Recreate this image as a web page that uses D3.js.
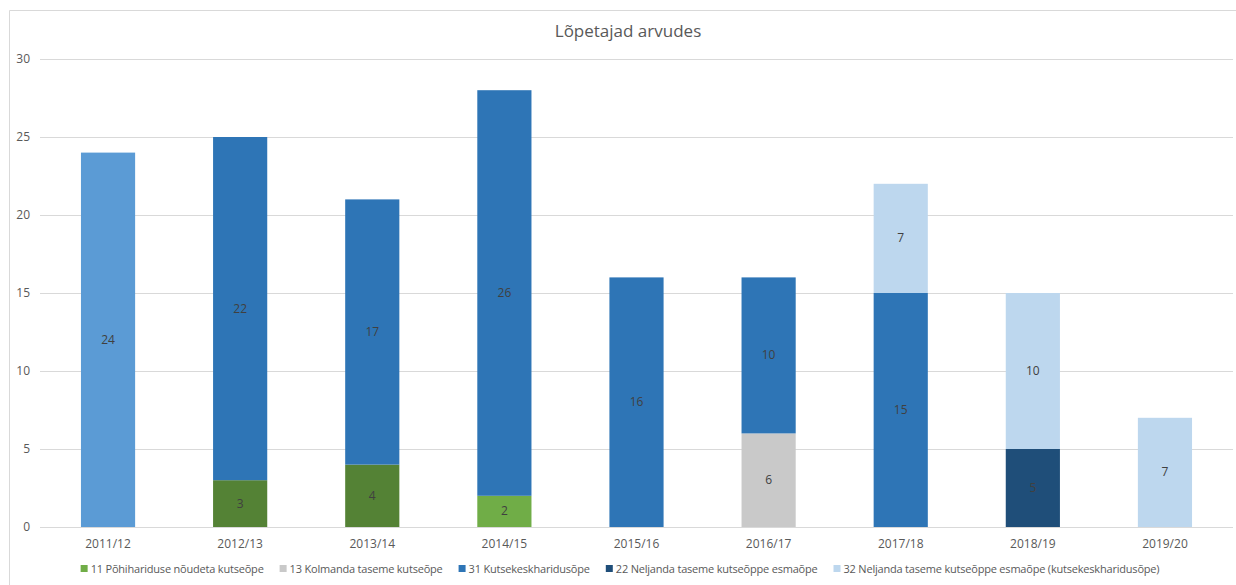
<!DOCTYPE html>
<html>
<head>
<meta charset="utf-8">
<script src="https://cdn.jsdelivr.net/npm/d3@7"></script>
<style>
  body { margin: 0; background: #fff; }
  text { font-family: "Open Sans", "DejaVu Sans", sans-serif; }
</style>
</head>
<body>
<div id="chart"></div>
<script>
// Data
var years = ["2011/12", "2012/13", "2013/14", "2014/15", "2015/16", "2016/17", "2017/18", "2018/19", "2019/20"];
var seriesNames = [
    "11 Põhihariduse nõudeta kutseõpe",
    "13 Kolmanda taseme kutseõpe",
    "31 Kutsekeskharidusõpe",
    "22 Neljanda taseme kutseõppe esmaõpe",
    "32 Neljanda taseme kutseõppe esmaõpe (kutsekeskharidusõpe)"
];
var s11 = [0, 3, 4, 2, 0, 0, 0, 0, 0];
var s13 = [0, 0, 0, 0, 0, 6, 0, 0, 0];
var s31 = [24, 22, 17, 26, 16, 10, 15, 0, 0];
var s22 = [0, 0, 0, 0, 0, 0, 0, 5, 0];
var s32 = [0, 0, 0, 0, 0, 0, 7, 10, 7];
var yTicks = [0, 5, 10, 15, 20, 25, 30];

var seriesValues = [s11, s13, s31, s22, s32];
var seriesColors = ["#70ad47", "#c9c9c9", "#2e75b6", "#1f4e79", "#bdd7ee"];
// some points were coloured differently in the original
var pointColors = {"0-1": "#548235", "0-2": "#548235", "2-0": "#5b9bd5"};

var svgWidth = 1236;
var svgHeight = 585;
var margins = {top: 59, left: 40, right: 3, bottom: 58};
var width = svgWidth - margins.left - margins.right;
var height = svgHeight - margins.top - margins.bottom;

var svg = d3.select("#chart").append("svg").attr("width", svgWidth).attr("height", svgHeight);

// chart frame (only top and left edges are in view)
svg.append("path")
    .attr("d", "M9.5," + svgHeight + "V10.5H" + svgWidth)
    .attr("fill", "none")
    .attr("stroke", "#d9d9d9");

svg.append("text")
    .attr("x", 628)
    .attr("y", 37)
    .attr("text-anchor", "middle")
    .attr("font-size", "17px")
    .attr("fill", "#595959")
    .text("Lõpetajad arvudes");

var chartGroup = svg.append("g").attr("transform", `translate(${margins.left},${margins.top})`);

var xScale = d3.scaleBand().domain(years).range([0, width]).paddingInner(0.59).paddingOuter(0.31);
var yScale = d3.scaleLinear().domain([0, 30]).range([height, 0]);

// gridlines
chartGroup.selectAll("line.grid")
    .data(yTicks)
    .enter()
    .append("line")
    .attr("x1", 0)
    .attr("x2", width)
    .attr("y1", d => yScale(d) + 0.5)
    .attr("y2", d => yScale(d) + 0.5)
    .attr("stroke", "#d9d9d9");

var leftAxis = d3.axisLeft(yScale).tickValues(yTicks).tickSize(0).tickPadding(10);
var yAxis = chartGroup.append("g").call(leftAxis);
yAxis.select(".domain").remove();
yAxis.selectAll("text").attr("font-size", "12px").attr("fill", "#595959").style("font-family", "Open Sans, sans-serif");

var bottomAxis = d3.axisBottom(xScale).tickSize(0).tickPadding(12);
var xAxis = chartGroup.append("g").attr("transform", `translate(0, ${height})`).call(bottomAxis);
xAxis.select(".domain").remove();
xAxis.selectAll("text").attr("font-size", "12px").attr("fill", "#595959").style("font-family", "Open Sans, sans-serif");

// stack
var table = years.map(function(y, i) {
    var row = {year: y};
    seriesNames.forEach(function(n, k) { row[n] = seriesValues[k][i]; });
    return row;
});
var stacked = d3.stack().keys(seriesNames)(table);

var layers = chartGroup.selectAll("g.layer")
    .data(stacked)
    .enter()
    .append("g");

layers.selectAll("rect")
    .data((d, k) => d.map(p => ({p: p, k: k, i: years.indexOf(p.data.year)})))
    .enter()
    .filter(d => d.p[1] > d.p[0])
    .append("rect")
    .attr("x", d => xScale(d.p.data.year))
    .attr("width", xScale.bandwidth())
    .attr("y", d => yScale(d.p[1]))
    .attr("height", d => yScale(d.p[0]) - yScale(d.p[1]))
    .attr("fill", d => pointColors[d.k + "-" + d.i] || seriesColors[d.k]);

layers.selectAll("text")
    .data((d, k) => d.map(p => ({p: p, k: k})))
    .enter()
    .filter(d => d.p[1] > d.p[0])
    .append("text")
    .attr("x", d => xScale(d.p.data.year) + xScale.bandwidth() / 2)
    .attr("y", d => yScale((d.p[0] + d.p[1]) / 2) + 4)
    .attr("text-anchor", "middle")
    .attr("font-size", "12px")
    .attr("fill", "#404040")
    .text(d => d.p[1] - d.p[0]);

// legend
var legend = svg.append("g").attr("transform", "translate(0, 569)");
var items = legend.selectAll("g")
    .data(seriesNames)
    .enter()
    .append("g");
items.append("rect")
    .attr("y", -4)
    .attr("width", 7)
    .attr("height", 7)
    .attr("fill", (d, k) => seriesColors[k]);
items.append("text")
    .attr("x", 10)
    .attr("y", 4)
    .attr("font-size", "11px")
    .attr("fill", "#595959")
    .style("letter-spacing", "-0.2px")
    .text(d => d);

var gap = 16;
var offsets = [];
var cursor = 0;
items.each(function() {
    offsets.push(cursor);
    cursor += 10 + this.querySelector("text").getComputedTextLength() + gap;
});
var start = 620 - (cursor - gap) / 2;
items.attr("transform", (d, k) => `translate(${start + offsets[k]}, 0)`);
</script>
</body>
</html>
